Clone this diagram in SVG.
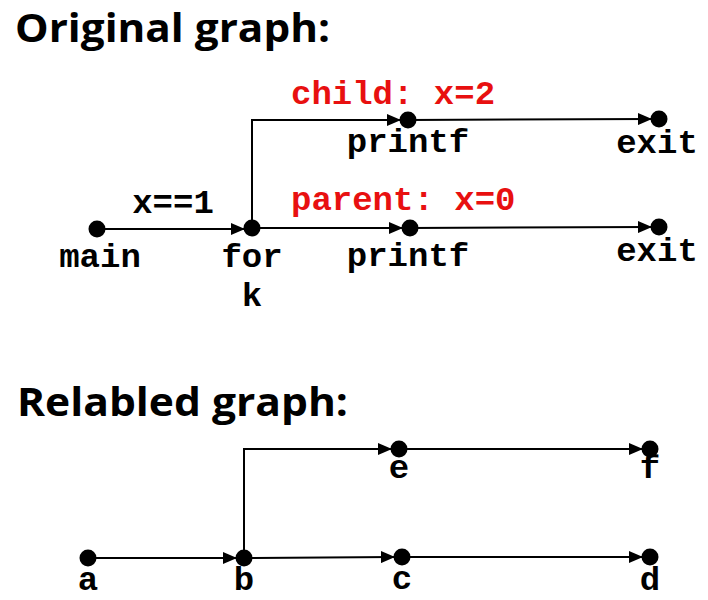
<svg xmlns="http://www.w3.org/2000/svg" width="708" height="600" viewBox="0 0 708 600">
<defs>
<marker id="ah" markerUnits="userSpaceOnUse" markerWidth="14" markerHeight="12" refX="13" refY="6" orient="auto">
<path d="M0,0 L14,6 L0,12 z" fill="#000"/>
</marker>
</defs>
<style>
.t{font-family:"Open Sans","Liberation Sans",sans-serif;font-weight:bold;font-size:39px;fill:#000}
.l{font-family:"Liberation Mono","Courier New",monospace;font-weight:bold;font-size:34px;fill:#000;text-anchor:middle}
.r{font-family:"Liberation Mono","Courier New",monospace;font-weight:bold;font-size:34px;fill:#e81010}
.e{stroke:#000;stroke-width:2;fill:none;marker-end:url(#ah)}
.d{fill:#000}
</style>
<rect width="708" height="600" fill="#fff"/>
<text class="t" x="15" y="42" textLength="315" lengthAdjust="spacingAndGlyphs">Original graph:</text>
<text class="t" x="17" y="416" textLength="331" lengthAdjust="spacingAndGlyphs">Relabled graph:</text>
<g id="connectors">
<path class="e" d="M97,229 L244,229"/>
<path class="e" d="M252,228 L402,228"/>
<path class="e" d="M410,228 L651,227"/>
<path class="e" d="M252,228 L252,120 L400,120"/>
<path class="e" d="M408,120 L651,119"/>
<path class="e" d="M88,558 L236,558"/>
<path class="e" d="M244,558 L394,557"/>
<path class="e" d="M402,557 L642,557"/>
<path class="e" d="M244,558 L244,449 L391,449"/>
<path class="e" d="M399,449 L642,449"/>
</g>
<g id="edge-labels">
<text class="l" x="173" y="213">x==1</text>
<text class="r" x="291" y="104">child: x=2</text>
<text class="r" x="291" y="210">parent: x=0</text>
</g>
<g id="main"><circle class="d" cx="97" cy="229" r="8.5"/><text class="l" x="100" y="267">main</text></g>
<g id="for"><circle class="d" cx="252" cy="228" r="8.5"/><text class="l" x="252" y="267">for</text><text class="l" x="252" y="306">k</text></g>
<g id="printf-child"><circle class="d" cx="408" cy="120" r="8.5"/><text class="l" x="408" y="152">printf</text></g>
<g id="exit-child"><circle class="d" cx="659" cy="119" r="8.5"/><text class="l" x="657" y="153">exit</text></g>
<g id="printf-parent"><circle class="d" cx="410" cy="228" r="8.5"/><text class="l" x="408" y="266">printf</text></g>
<g id="exit-parent"><circle class="d" cx="659" cy="227" r="8.5"/><text class="l" x="657" y="261">exit</text></g>
<g id="a"><circle class="d" cx="88" cy="558" r="8.5"/><text class="l" x="88" y="590">a</text></g>
<g id="b"><circle class="d" cx="244" cy="558" r="8.5"/><text class="l" x="244" y="590">b</text></g>
<g id="c"><circle class="d" cx="402" cy="557" r="8.5"/><text class="l" x="402" y="589">c</text></g>
<g id="d"><circle class="d" cx="650" cy="557" r="8.5"/><text class="l" x="650" y="590">d</text></g>
<g id="e"><circle class="d" cx="399" cy="449" r="8.5"/><text class="l" x="399" y="478">e</text></g>
<g id="f"><circle class="d" cx="650" cy="449" r="8.5"/><text class="l" x="650" y="478">f</text></g>
</svg>
